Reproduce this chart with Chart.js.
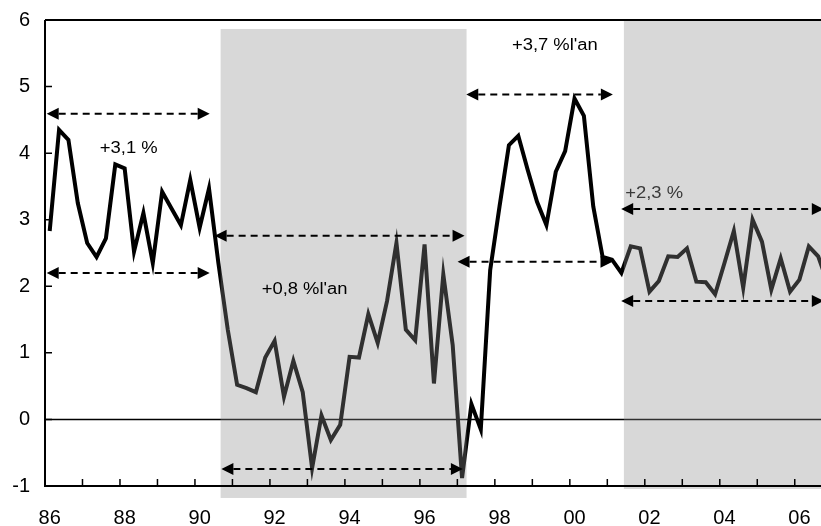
<!DOCTYPE html>
<html>
<head>
<meta charset="utf-8">
<script src="https://cdn.jsdelivr.net/npm/chart.js@4.4.1/dist/chart.umd.min.js"></script>
<style>
  html, body { margin: 0; padding: 0; background: #fff; overflow: hidden; }
  canvas { display: block; }
</style>
</head>
<body>
<canvas id="chart" width="821" height="526"></canvas>
<script>
// Glissement annuel, données trimestrielles 1986T1 -> 2006T4
const values = [
  2.83, 4.35, 4.20, 3.25, 2.65, 2.44, 2.72, 3.83,
  3.77, 2.52, 3.10, 2.35, 3.42, 3.17, 2.92, 3.60,
  2.88, 3.47, 2.35, 1.35, 0.52, 0.47, 0.41, 0.93,
  1.18, 0.34, 0.88, 0.41, -0.73, 0.06, -0.31, -0.08,
  0.94, 0.93, 1.58, 1.15, 1.78, 2.65, 1.35, 1.19,
  2.63, 0.54, 2.18, 1.12, -0.88, 0.23, -0.15, 2.24,
  3.20, 4.12, 4.26, 3.75, 3.27, 2.92, 3.72, 4.03,
  4.82, 4.56, 3.20, 2.44, 2.40, 2.20, 2.60, 2.57,
  1.92, 2.08, 2.45, 2.44, 2.57, 2.07, 2.06, 1.88,
  2.35, 2.83, 1.98, 3.00, 2.67, 1.95, 2.42, 1.92,
  2.10, 2.60, 2.45, 2.05
];

// étiquettes de l'axe des x (1er trimestre des années paires)
const yearLabels = ['86', '88', '90', '92', '94', '96', '98', '00', '02', '04', '06'];
const yearIndex = [0, 8, 16, 24, 32, 40, 48, 56, 64, 72, 80];
const yTicks = [-1, 0, 1, 2, 3, 4, 5, 6];

// zones grisées (en trimestres / valeurs)
const shadeFrom = [18.24, 61.27];
const shadeTo = [44.48, 90];
const shadeTop = [5.865, 6];
const shadeBottom = [-1.18, -1.045];

// flèches en pointillés
const arrowY    = [4.59, 2.20, 2.76, -0.745, 4.88, 2.37, 3.16, 1.78];
const arrowFrom = [-0.32, -0.32, 17.6, 18.32, 44.45, 43.52, 60.98, 60.98];
const arrowTo   = [17.07, 17.07, 44.27, 44.09, 60.09, 60.05, 82.6, 82.6];

// annotations
const noteText = ['+3,1 %', "+0,8 %l'an", "+3,7 %l'an", '+2,3 %'];
const noteX = [8.43, 27.2, 53.9, 64.5];
const noteY = [4.0, 1.88, 5.55, 3.33];

const FONT = "'Liberation Sans', Arial, sans-serif";

const points = values.map((v, i) => ({ x: i, y: v }));

function arrowHead(ctx, x, y, dir) {
  ctx.beginPath();
  ctx.moveTo(x, y);
  ctx.lineTo(x - dir * 12, y - 6);
  ctx.lineTo(x - dir * 12, y + 6);
  ctx.closePath();
  ctx.fill();
}

const decor = {
  id: 'decor',
  beforeDatasetsDraw(chart) {
    const { ctx, chartArea: a, scales: { y } } = chart;
    ctx.save();
    ctx.strokeStyle = '#000';
    ctx.lineWidth = 1.5;
    ctx.beginPath();
    ctx.moveTo(a.left, y.getPixelForValue(0));
    ctx.lineTo(a.right, y.getPixelForValue(0));
    ctx.stroke();
    ctx.restore();
  },
  afterDatasetsDraw(chart) {
    const { ctx, chartArea: a, scales: { x, y } } = chart;
    ctx.save();

    // zones grisées
    ctx.fillStyle = 'rgba(140,140,140,0.34)';
    shadeFrom.forEach((f, k) => {
      const x1 = x.getPixelForValue(f);
      const x2 = Math.min(x.getPixelForValue(shadeTo[k]), chart.width);
      const y1 = y.getPixelForValue(shadeTop[k]);
      const y2 = y.getPixelForValue(shadeBottom[k]);
      ctx.fillRect(x1, y1, x2 - x1, y2 - y1);
    });

    // flèches
    ctx.strokeStyle = '#000';
    ctx.fillStyle = '#000';
    ctx.lineWidth = 2;
    arrowY.forEach((v, k) => {
      const py = y.getPixelForValue(v);
      const x1 = x.getPixelForValue(arrowFrom[k]);
      const x2 = x.getPixelForValue(arrowTo[k]);
      ctx.setLineDash([7, 5]);
      ctx.beginPath();
      ctx.moveTo(x1 + 12, py);
      ctx.lineTo(x2 - 12, py);
      ctx.stroke();
      ctx.setLineDash([]);
      arrowHead(ctx, x1, py, -1);
      arrowHead(ctx, x2, py, 1);
    });

    // textes
    ctx.font = '16px ' + FONT;
    ctx.textAlign = 'center';
    ctx.textBaseline = 'alphabetic';
    noteText.forEach((t, k) => {
      ctx.save();
      ctx.fillStyle = k === 3 ? '#3a3a3a' : '#000';
      ctx.translate(x.getPixelForValue(noteX[k]), y.getPixelForValue(noteY[k]));
      ctx.scale(1.15, 1);
      ctx.fillText(t, 0, 0);
      ctx.restore();
    });

    // axes et cadre
    ctx.strokeStyle = '#000';
    ctx.lineWidth = 2;
    ctx.beginPath();
    ctx.moveTo(a.left, a.top);
    ctx.lineTo(a.right, a.top);
    ctx.moveTo(a.left, a.top);
    ctx.lineTo(a.left, a.bottom);
    ctx.lineTo(a.right, a.bottom);
    ctx.stroke();

    // graduations intérieures
    ctx.lineWidth = 1.5;
    ctx.beginPath();
    yTicks.forEach(v => {
      const py = y.getPixelForValue(v);
      ctx.moveTo(a.left, py);
      ctx.lineTo(a.left + 7, py);
    });
    for (let q = 3.5; q < x.max; q += 4) {
      const px = x.getPixelForValue(q);
      ctx.moveTo(px, a.bottom);
      ctx.lineTo(px, a.bottom - 7);
    }
    ctx.stroke();

    ctx.restore();
  }
};

new Chart(document.getElementById('chart').getContext('2d'), {
  type: 'line',
  data: {
    datasets: [{
      data: points,
      borderColor: '#000',
      borderWidth: 4,
      pointRadius: 0,
      tension: 0,
      fill: false
    }]
  },
  options: {
    responsive: false,
    animation: false,
    layout: { padding: { top: 20, right: 0, bottom: 0, left: 0 } },
    plugins: { legend: { display: false }, tooltip: { enabled: false } },
    scales: {
      x: {
        type: 'linear',
        min: -0.5,
        max: 82.3,
        grid: { display: false, drawTicks: false },
        border: { display: false },
        afterBuildTicks: (s) => { s.ticks = yearIndex.map(v => ({ value: v })); },
        afterFit: (s) => { s.height = 40; s.paddingLeft = 0; s.paddingRight = 0; },
        ticks: {
          autoSkip: false,
          maxRotation: 0,
          padding: 20,
          color: '#000',
          font: { family: FONT, size: 20 },
          callback: (v) => yearLabels[yearIndex.indexOf(v)]
        }
      },
      y: {
        min: -1,
        max: 6,
        grid: { display: false, drawTicks: false },
        border: { display: false },
        afterBuildTicks: (s) => { s.ticks = yTicks.map(v => ({ value: v })); },
        afterFit: (s) => { s.width = 45; s.paddingTop = 0; s.paddingBottom = 0; },
        ticks: {
          padding: 15,
          color: '#000',
          font: { family: FONT, size: 20 },
          callback: (v) => String(v)
        }
      }
    }
  },
  plugins: [decor]
});
</script>
</body>
</html>
